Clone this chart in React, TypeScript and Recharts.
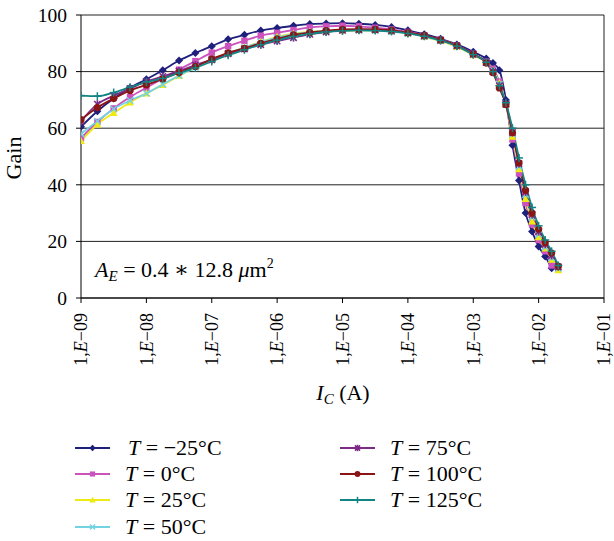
import React from 'react';
import { LineChart, Line, XAxis, YAxis, CartesianGrid, ReferenceLine } from 'recharts';

// collector current grid (A), log spaced
const icA = [
  1e-9, 1.78e-9, 3.16e-9, 5.62e-9, 1e-8, 1.78e-8, 3.16e-8, 5.62e-8,
  1e-7, 1.78e-7, 3.16e-7, 5.62e-7, 1e-6, 1.78e-6, 3.16e-6, 5.62e-6,
  1e-5, 1.78e-5, 3.16e-5, 5.62e-5, 1e-4, 1.78e-4, 3.16e-4, 5.62e-4,
  1e-3, 1.58e-3, 2e-3, 2.51e-3, 3.16e-3, 3.98e-3, 5.01e-3, 6.31e-3, 7.94e-3,
  1e-2, 1.26e-2, 1.58e-2, 2e-2,
];

const gainM25 = [
  60.5, 66, 70.5, 74.3, 77.3, 80.5, 83.9, 86.6, 89, 91.4, 93, 94.5, 95.4, 96.2, 96.8, 97,
  97.1, 96.9, 96.5, 95.8, 94.6, 93.2, 91.6, 89.6, 87,
  84.6, 83, 80.5, 70, 54, 41.5, 30, 23.5, 18.2, 14.7, 10.5, null,
];
const gain0 = [
  56.5, 62.2, 67, 71, 74.3, 77.5, 80.7, 83.7, 86.7, 89, 90.9, 92.7, 93.7, 94.7, 95.6, 96,
  96.2, 96, 95.5, 94.9, 94, 92.8, 91.3, 89.3, 86.3,
  83.5, 81, 76.5, 68.5, 56, 44, 33.5, 26, 20.5, 16.5, 11.5, null,
];
const gain25 = [
  55.5, 61.3, 65.4, 69.1, 72.3, 75.3, 78.5, 81.6, 84.3, 86.5, 88.5, 90.5, 92.3, 93.4, 94, 94.3,
  94.5, 94.6, 94.6, 94.2, 93.5, 92.3, 90.8, 88.8, 85.8,
  83.3, 80.5, 76, 68.5, 57, 45.5, 35, 27, 21.5, 17.5, 13.5, 9.8,
];
const gain50 = [
  58, 62.5, 66.8, 69.8, 72.3, 75.5, 78.6, 81.5, 84.2, 86.5, 88.5, 90.4, 92, 93.2, 93.9, 94.4,
  94.6, 94.6, 94.5, 94.1, 93.5, 92.4, 90.9, 89, 86,
  83.3, 80.3, 75.5, 68.5, 58, 46.5, 36.5, 28.5, 22.5, 18, 14.2, 10.5,
];
const gain75 = [
  62.5, 68.5, 71.5, 74, 76.5, 78.3, 80.2, 82.3, 84.2, 86.3, 88, 89.5, 90.8, 92, 93.2, 94,
  94.6, 94.8, 94.8, 94.4, 93.7, 92.6, 91.1, 89.1, 86.1,
  83.2, 80, 75, 68.5, 58.5, 47.5, 37.5, 29.5, 23.5, 19, 15, 11,
];
const gain100 = [
  63, 67.3, 70.5, 73.3, 75.3, 77.4, 79.7, 81.8, 84.4, 86.6, 88.2, 90, 91.6, 93, 93.8, 94.5,
  94.9, 95, 94.9, 94.6, 93.8, 92.8, 91.2, 89.2, 86.2,
  83.1, 79.6, 74.2, 68.4, 58.4, 47.7, 38, 30, 24.3, 19.5, 15.9, 11.2,
];
const gain125 = [
  71.5, 71.3, 72.6, 74.5, 76.3, 77.6, 79.5, 81.3, 83.6, 85.8, 87.7, 89.5, 91.1, 92.4, 93.3, 94,
  94.4, 94.6, 94.5, 94.2, 93.5, 92.5, 91, 89, 86,
  83.3, 80, 75, 69, 60, 49.5, 40, 32, 25.5, 20.5, 16.5, 11.5,
];

const xTicks = [1e-9, 1e-8, 1e-7, 1e-6, 1e-5, 1e-4, 1e-3, 1e-2, 1e-1];
const yTicks = [0, 20, 40, 60, 80, 100];

const series = [
  { key: 'm25', label: '\u221225', values: gainM25, color: '#1f1f7c', marker: 'diamond' },
  { key: 't0', label: '0', values: gain0, color: '#cc52bd', marker: 'square' },
  { key: 't25', label: '25', values: gain25, color: '#eeea16', marker: 'triangle' },
  { key: 't50', label: '50', values: gain50, color: '#74d3e3', marker: 'cross' },
  { key: 't75', label: '75', values: gain75, color: '#7d2a86', marker: 'star' },
  { key: 't100', label: '100', values: gain100, color: '#8b1414', marker: 'circle' },
  { key: 't125', label: '125', values: gain125, color: '#138484', marker: 'plus' },
];

const data = icA.map((ic, i) => {
  const row: Record<string, number | null> = { ic };
  series.forEach(s => { row[s.key] = s.values[i]; });
  return row;
});

const FONT = '"Liberation Serif", "DejaVu Serif", serif';

const Marker = ({ kind, cx, cy, color, s = 1 }: { kind: string; cx: number; cy: number; color: string; s?: number }) => {
  const r = 4 * s;
  switch (kind) {
    case 'diamond':
      return <polygon points={`${cx},${cy - r} ${cx + r},${cy} ${cx},${cy + r} ${cx - r},${cy}`} fill={color} />;
    case 'square':
      return <rect x={cx - r * 0.8} y={cy - r * 0.8} width={r * 1.6} height={r * 1.6} fill={color} />;
    case 'triangle':
      return <polygon points={`${cx},${cy - r} ${cx + r},${cy + r * 0.75} ${cx - r},${cy + r * 0.75}`} fill={color} />;
    case 'cross':
      return (
        <g stroke={color} strokeWidth={1.5}>
          <line x1={cx - r * 0.8} y1={cy - r * 0.8} x2={cx + r * 0.8} y2={cy + r * 0.8} />
          <line x1={cx - r * 0.8} y1={cy + r * 0.8} x2={cx + r * 0.8} y2={cy - r * 0.8} />
        </g>
      );
    case 'star':
      return (
        <g stroke={color} strokeWidth={1.6}>
          <line x1={cx - r * 0.8} y1={cy - r * 0.8} x2={cx + r * 0.8} y2={cy + r * 0.8} />
          <line x1={cx - r * 0.8} y1={cy + r * 0.8} x2={cx + r * 0.8} y2={cy - r * 0.8} />
          <line x1={cx} y1={cy - r} x2={cx} y2={cy + r} />
        </g>
      );
    case 'circle':
      return <circle cx={cx} cy={cy} r={r * 0.9} fill={color} />;
    default:
      return (
        <g stroke={color} strokeWidth={1.5}>
          <line x1={cx - r} y1={cy} x2={cx + r} y2={cy} />
          <line x1={cx} y1={cy - r} x2={cx} y2={cy + r} />
        </g>
      );
  }
};

const makeDot = (kind: string, color: string) => (props: any) => {
  const { cx, cy, index, value } = props;
  if (value == null || cx == null || cy == null) return <g key={`${kind}-${index}`} />;
  return (
    <g key={`${kind}-${index}`}>
      <Marker kind={kind} cx={cx} cy={cy} color={color} />
    </g>
  );
};

const XTick = (props: any) => {
  const { x, y, payload } = props;
  const exp = Math.round(Math.log10(payload.value));
  const pad = String(Math.abs(exp)).padStart(2, '0');
  return (
    <g transform={`translate(${x},${y + 8}) rotate(-90)`}>
      <text x={0} y={0} textAnchor="end" dy="0.35em" fontSize={18} fontFamily={FONT} fill="#000">
        1,<tspan fontStyle="italic">E</tspan>{'\u2212'}{pad}
      </text>
    </g>
  );
};

const YTick = (props: any) => {
  const { x, y, payload } = props;
  return (
    <text x={x} y={y} dy="0.35em" textAnchor="end" fontSize={19.5} fontFamily={FONT} fill="#000">
      {payload.value}
    </text>
  );
};

const Legend = () => {
  const cols = [series.slice(0, 4), series.slice(4)];
  const lefts = [66, 331];
  return (
    <div style={{ position: 'absolute', left: 0, top: 436, width: 614 }}>
      {cols.map((col, ci) =>
        col.map((s, ri) => (
          <div
            key={s.key}
            style={{
              position: 'absolute',
              left: lefts[ci],
              top: ri * 26.2,
              display: 'flex',
              alignItems: 'center',
              height: 24,
              fontFamily: FONT,
              fontSize: 22,
              color: '#000',
              whiteSpace: 'pre',
            }}
          >
            <svg width={50} height={24}>
              <line x1={9} y1={12} x2={44} y2={12} stroke={s.color} strokeWidth={2} />
              <Marker kind={s.marker} cx={26.5} cy={12} color={s.color} s={0.8} />
            </svg>
            <span style={{ marginLeft: ci === 0 && ri === 0 ? 12 : 9 }}>
              <i>T</i> = {s.label}{'\u00b0'}C
            </span>
          </div>
        ))
      )}
    </div>
  );
};

export default function App() {
  return (
    <div style={{ position: 'absolute', left: 0, top: 0, width: 614, height: 541, background: '#fff' }}>
      <LineChart
        width={614}
        height={541}
        data={data}
        margin={{ top: 15, right: 10, left: 0, bottom: 183 }}
      >
        <CartesianGrid vertical={false} stroke="#222" strokeWidth={1} />
        <XAxis
          dataKey="ic"
          type="number"
          scale="log"
          domain={[1e-9, 1e-1]}
          ticks={xTicks}
          allowDataOverflow
          height={60}
          tick={<XTick />}
          tickSize={5}
          tickLine={{ stroke: '#000' }}
          axisLine={{ stroke: '#000' }}
          interval={0}
        />
        <YAxis
          domain={[0, 100]}
          ticks={yTicks}
          width={81}
          tick={<YTick />}
          tickSize={5}
          tickMargin={9}
          tickLine={{ stroke: '#000' }}
          axisLine={{ stroke: '#000' }}
          interval={0}
        />
        <ReferenceLine x={1e-1} stroke="#222" />
        {series.map(s => (
          <Line
            key={s.key}
            dataKey={s.key}
            type="monotone"
            stroke={s.color}
            strokeWidth={1.8}
            dot={makeDot(s.marker, s.color)}
            activeDot={false}
            isAnimationActive={false}
          />
        ))}
        <text x={21} y={158} transform="rotate(-90 21 158)" textAnchor="middle" fontSize={22} fontFamily={FONT} fill="#000">
          Gain
        </text>
        <text x={95} y={277} fontSize={22} fontFamily={FONT} fill="#000">
          <tspan fontStyle="italic">A</tspan>
          <tspan fontStyle="italic" fontSize={15} dy={4}>E</tspan>
          <tspan dy={-4}> = 0.4 {'\u2217'} 12.8 </tspan>
          <tspan fontStyle="italic">{'\u03bc'}</tspan>
          <tspan>m</tspan>
          <tspan fontSize={14} dy={-9}>2</tspan>
        </text>
        <text x={343} y={400} textAnchor="middle" fontSize={22} fontFamily={FONT} fill="#000">
          <tspan fontStyle="italic">I</tspan>
          <tspan fontStyle="italic" fontSize={15} dy={4}>C</tspan>
          <tspan dy={-4}> (A)</tspan>
        </text>
      </LineChart>
      <Legend />
    </div>
  );
}
